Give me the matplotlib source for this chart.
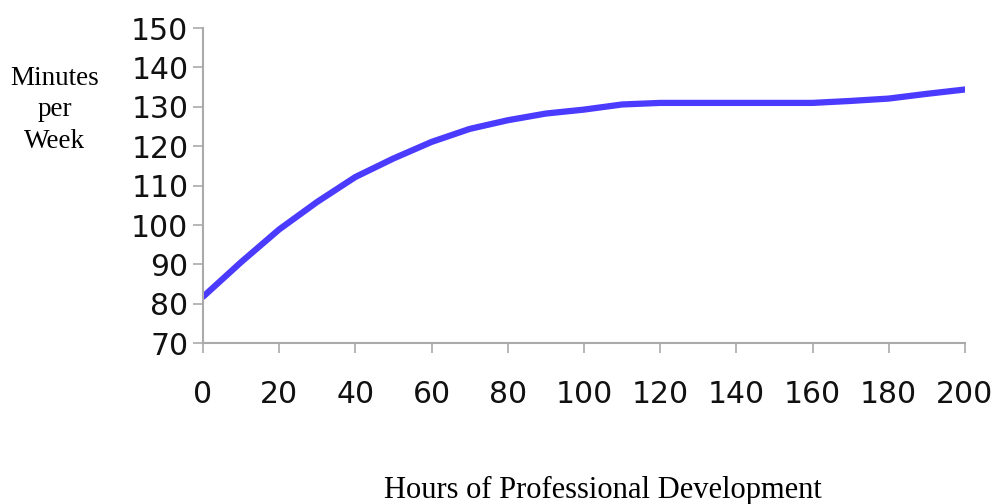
import matplotlib.pyplot as plt
import numpy as np

# values
hours = [0, 10, 20, 30, 40, 50, 60, 70, 80, 90, 100, 110, 120, 130, 140, 150, 160, 170, 180, 190, 200]
minutes = [81.8, 90.6, 98.9, 105.9, 112.2, 116.9, 121.1, 124.4, 126.6, 128.3, 129.3, 130.6, 131.0,
           131.0, 131.0, 131.0, 131.0, 131.5, 132.1, 133.3, 134.4]

x_ticks = list(range(0, 201, 20))
y_ticks = list(range(70, 151, 10))

fig = plt.figure(figsize=(10.03, 5.04), dpi=100)
ax = fig.add_axes([0.2024, 0.3188, 0.7596, 0.6256])

ax.plot(hours, minutes, color='#4B3BFF', linewidth=4.5, solid_capstyle='round', solid_joinstyle='round')

ax.set_xlim(0, 200)
ax.set_ylim(70, 150)
ax.set_xticks(x_ticks)
ax.set_yticks(y_ticks)

for side in ['top', 'right']:
	ax.spines[side].set_visible(False)
for side in ['left', 'bottom']:
	ax.spines[side].set_color('#AAAAAA')
	ax.spines[side].set_linewidth(1.5)

ax.tick_params(axis='both', direction='out', length=7.5, width=1.2, color='#AAAAAA',
               labelsize=21.5, labelcolor='#111111')
ax.tick_params(axis='x', pad=19)
ax.tick_params(axis='y', pad=3)
for lab in ax.get_xticklabels() + ax.get_yticklabels():
	lab.set_family('DejaVu Sans')

# axis titles in a serif face
fig.text(55 / 1003, 1 - 110 / 504, 'Minutes\nper\nWeek', ha='center', va='center',
         family='Liberation Serif', fontsize=19.5, linespacing=1.35)
fig.text(603 / 1003, 1 - 490 / 504, 'Hours of Professional Development', ha='center', va='center',
         family='Liberation Serif', fontsize=22)

fig.savefig('out.png', dpi=100)
